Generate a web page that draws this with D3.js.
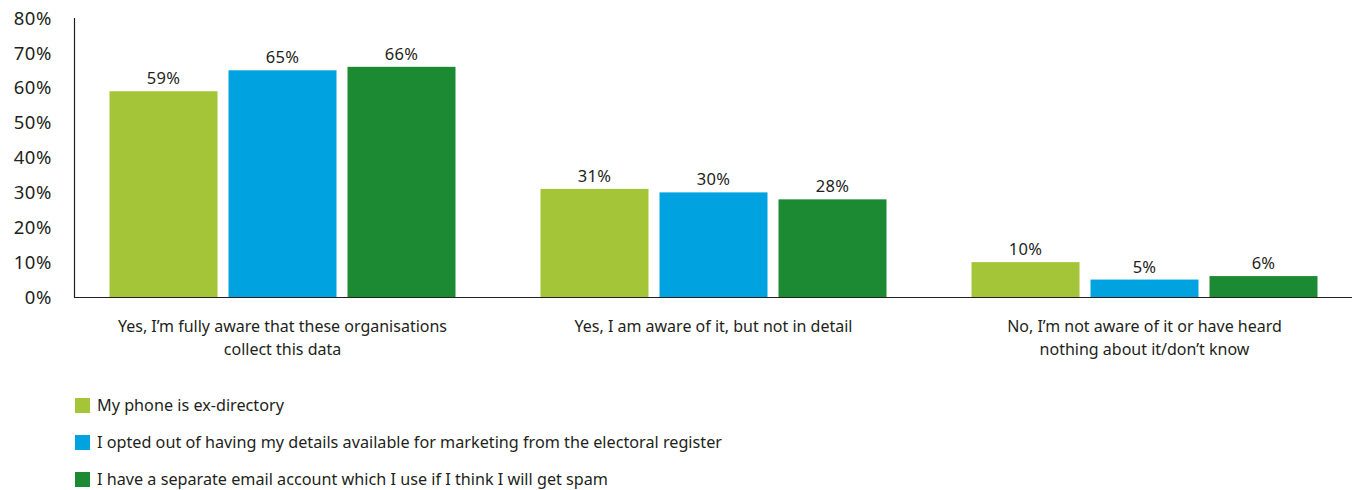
<!DOCTYPE html>
<html>
<head>
<meta charset="utf-8">
<script src="https://cdn.jsdelivr.net/npm/d3@7"></script>
<style>
  html, body { margin: 0; padding: 0; background: #fff; }
  svg { display: block; font-family: "Noto Sans", "Open Sans", sans-serif; }
  text { fill: #231f20; }
</style>
</head>
<body>
<svg id="chart" width="1357" height="490"></svg>
<script>
// Awareness categories (x axis), two lines each
const categories = [
  ["Yes, I\u2019m fully aware that these organisations", "collect this data"],
  ["Yes, I am aware of it, but not in detail"],
  ["No, I\u2019m not aware of it or have heard", "nothing about it/don\u2019t know"]
];
const seriesNames = [
  "My phone is ex-directory",
  "I opted out of having my details available for marketing from the electoral register",
  "I have a separate email account which I use if I think I will get spam"
];
const exDirectory = [59, 31, 10];
const optedOut = [65, 30, 5];
const separateEmail = [66, 28, 6];
const yTicks = [0, 10, 20, 30, 40, 50, 60, 70, 80];
const colors = ["#a5c538", "#00a3e0", "#1c8a32"];

const series = [exDirectory, optedOut, separateEmail];
const svg = d3.select("#chart");

const y = d3.scaleLinear().domain([0, 80]).range([297, 18]);
const x0 = d3.scaleBand().domain(d3.range(categories.length)).range([67, 1360]);
const x1 = d3.scaleBand().domain(d3.range(series.length))
  .range([0, 346]).paddingInner(11 / 119).paddingOuter(0);
const groupOffset = (x0.bandwidth() - 346) / 2;

// Y axis: vertical line and percentage ticks
svg.append("line").attr("x1", 74.5).attr("x2", 74.5)
  .attr("y1", 18).attr("y2", y(0)).attr("stroke", "#231f20").attr("stroke-width", 1.2);
svg.append("g").selectAll("text").data(yTicks).join("text")
  .attr("x", 52).attr("y", d => y(d)).attr("dy", "0.36em")
  .attr("text-anchor", "end").attr("font-size", 18.5).attr("letter-spacing", 0.6)
  .text(d => d + "%");

// Bars
const groups = svg.append("g").selectAll("g").data(categories).join("g")
  .attr("transform", (d, i) => `translate(${x0(i) + groupOffset},0)`);

groups.each(function(cat, ci) {
  const g = d3.select(this);
  const vals = series.map(s => s[ci]);
  g.selectAll("rect").data(vals).join("rect")
    .attr("x", (d, si) => x1(si))
    .attr("width", x1.bandwidth())
    .attr("y", d => y(d))
    .attr("height", d => y(0) - y(d))
    .attr("fill", (d, si) => colors[si]);
  g.selectAll("text.val").data(vals).join("text").attr("class", "val")
    .attr("x", (d, si) => x1(si) + x1.bandwidth() / 2)
    .attr("y", d => y(d) - 7)
    .attr("text-anchor", "middle").attr("font-size", 16.5).attr("letter-spacing", 0.3)
    .text(d => d + "%");
});

// X axis baseline
svg.append("line").attr("x1", 74).attr("x2", 1352)
  .attr("y1", y(0) + 0.5).attr("y2", y(0) + 0.5)
  .attr("stroke", "#231f20").attr("stroke-width", 1.2);

// Category labels
svg.append("g").selectAll("text").data(categories).join("text")
  .attr("text-anchor", "middle").attr("font-size", 16)
  .each(function(lines, i) {
    d3.select(this).selectAll("tspan").data(lines).join("tspan")
      .attr("x", x0(i) + x0.bandwidth() / 2)
      .attr("y", (d, k) => 332 + k * 23)
      .text(d => d);
  });

// Legend
const legend = svg.append("g").selectAll("g").data(seriesNames).join("g")
  .attr("transform", (d, i) => `translate(75,${398 + i * 37})`);
legend.append("rect").attr("width", 15).attr("height", 15)
  .attr("fill", (d, i) => colors[i]);
legend.append("text").attr("x", 22).attr("y", 13)
  .attr("font-size", 16.2).text(d => d);
</script>
</body>
</html>
